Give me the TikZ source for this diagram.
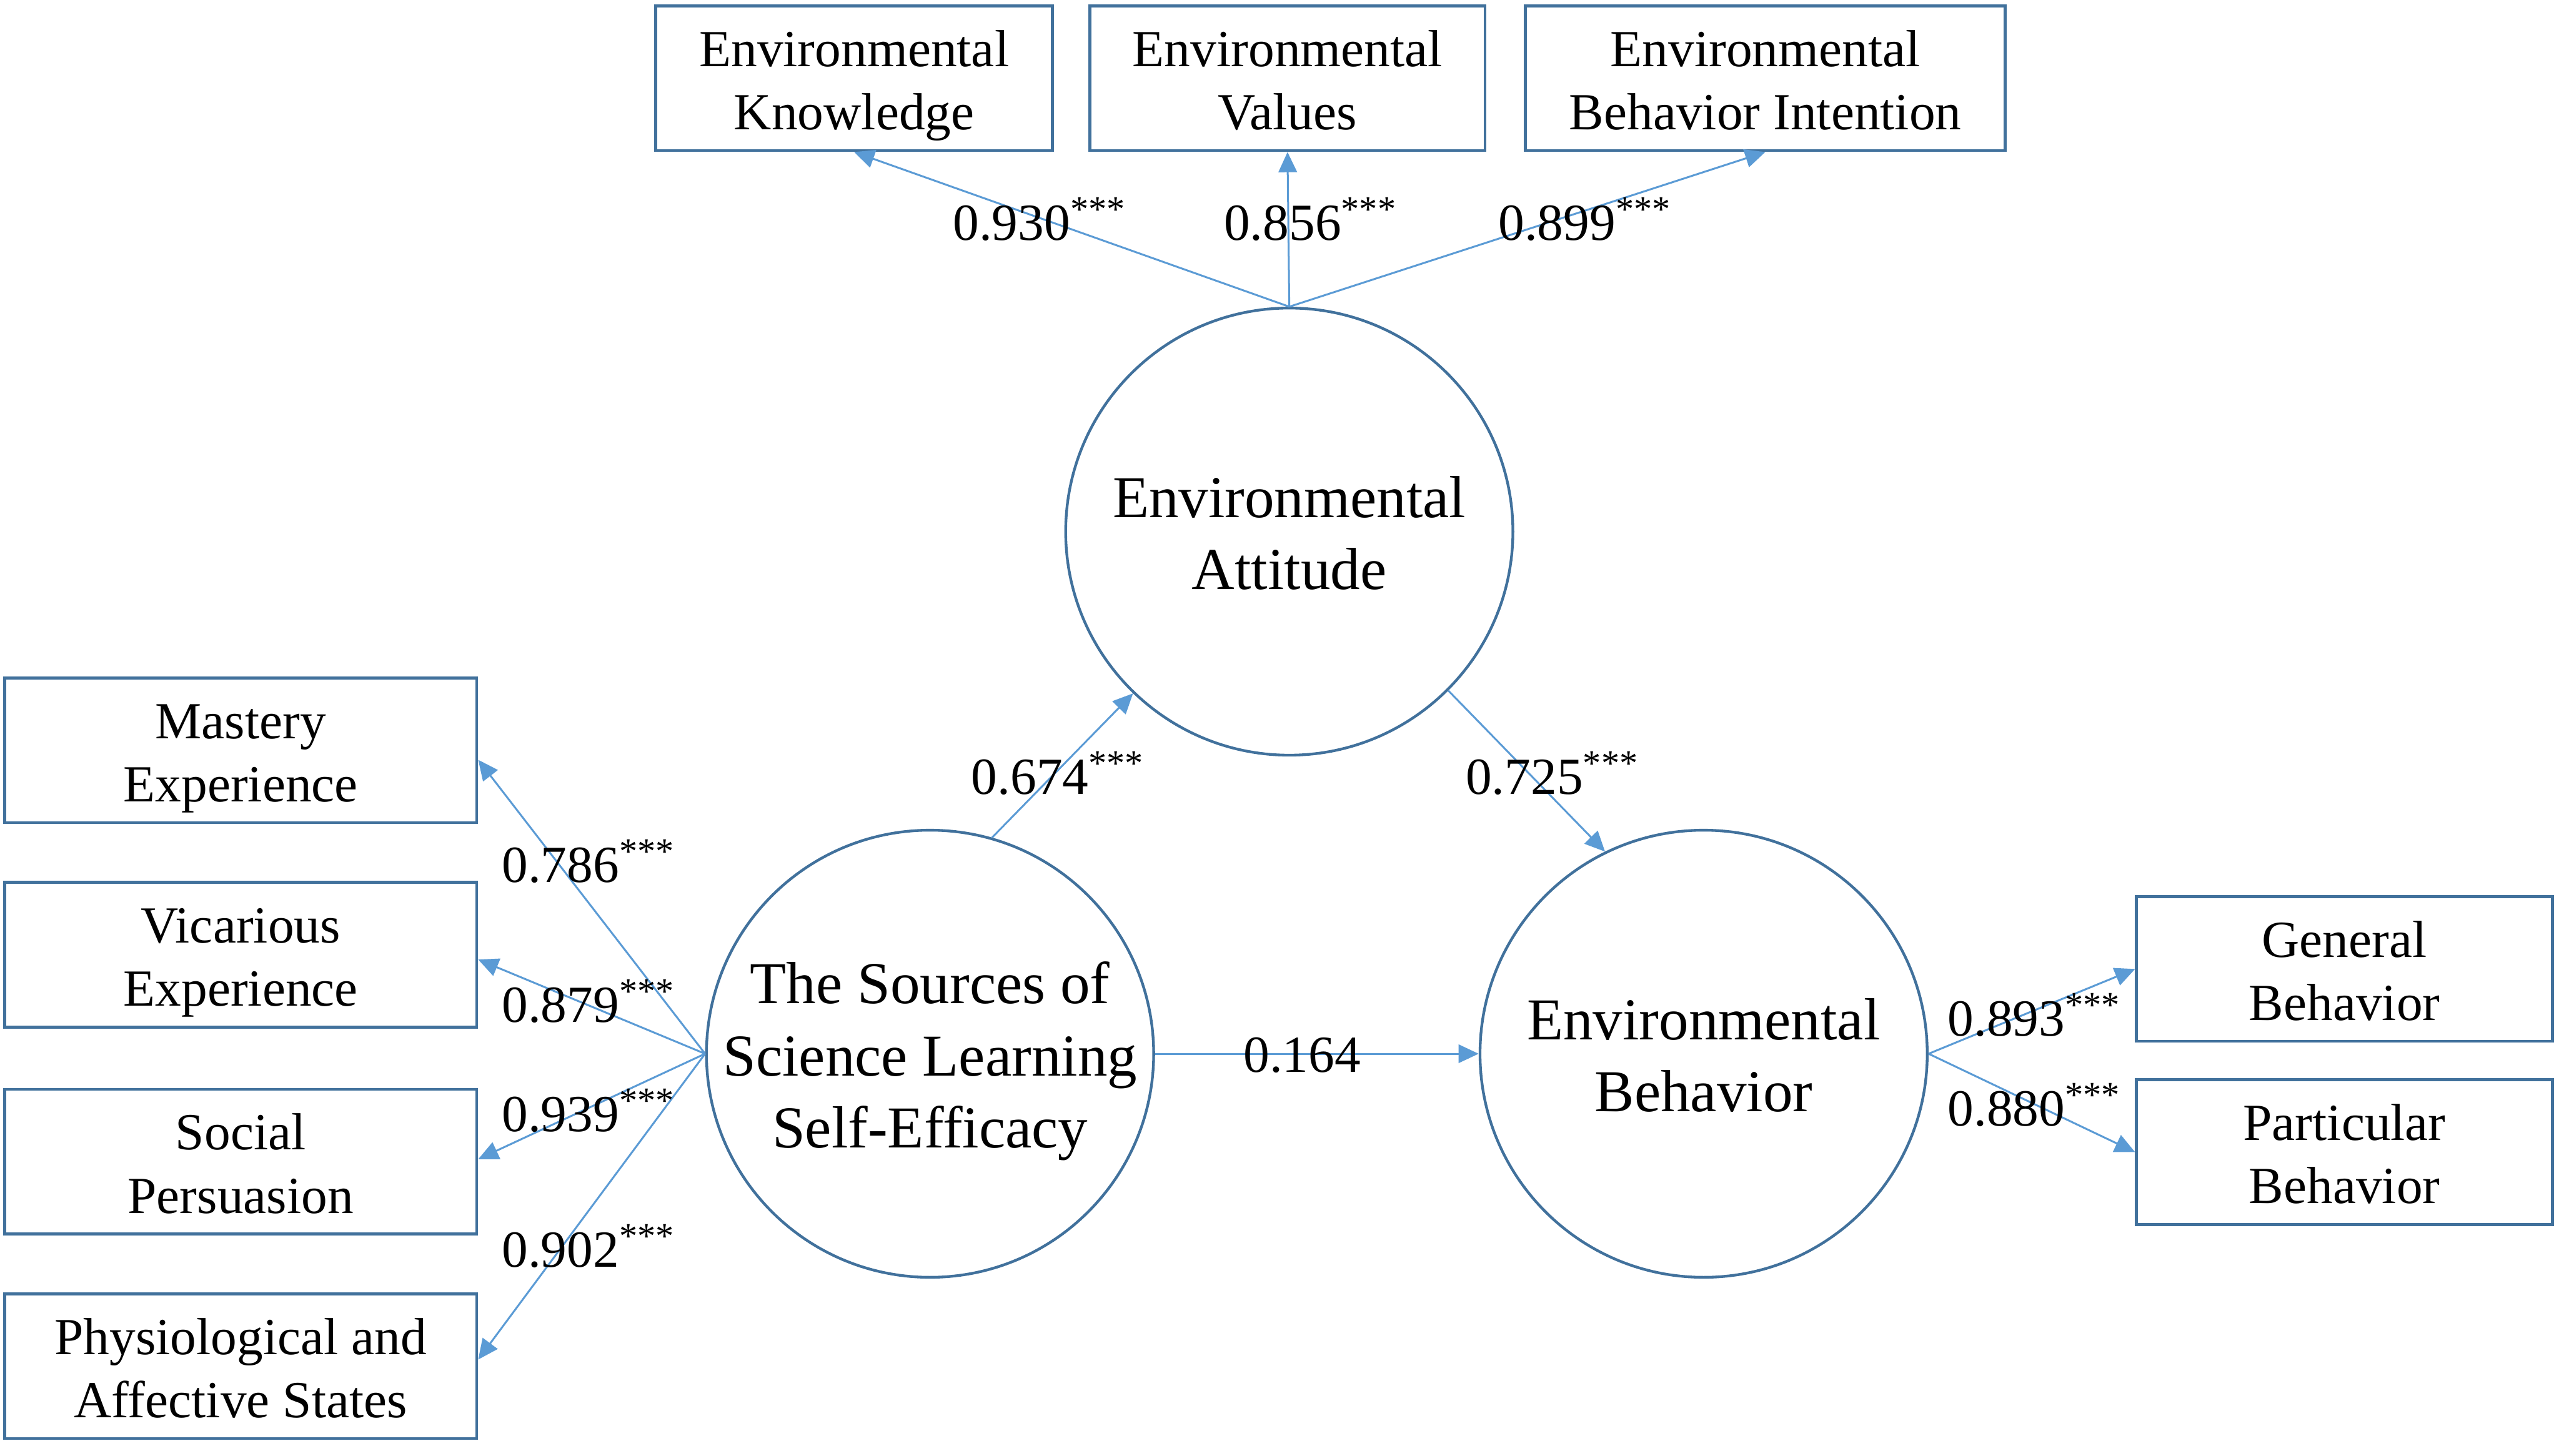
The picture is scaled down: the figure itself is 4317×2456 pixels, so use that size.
\documentclass[tikz,border=0pt]{standalone}
\usepackage{fontspec}
\setmainfont{Liberation Serif}
\usetikzlibrary{arrows.meta}
\definecolor{boxblue}{HTML}{41719C}
\definecolor{arrblue}{HTML}{5B9BD5}
\newcommand{\boxtopstrut}{\rule{0pt}{25pt}}
\newcommand{\circtopstrut}{\rule{0pt}{28pt}}
\begin{document}
\begin{tikzpicture}[x=0.01cm,y=-0.01cm,
  obs/.style={draw=boxblue, line width=1.4pt, rectangle, inner sep=0pt, align=center,
    minimum height=2.44cm, font=\fontsize{25}{30.4}\selectfont,
    execute at end node={\rule[-6pt]{0pt}{6pt}}},
  lat/.style={draw=boxblue, line width=1.3pt, circle, minimum size=7.54cm, inner sep=-0.5cm,
    align=center, font=\fontsize{28.5}{34.5}\selectfont,
    execute at end node={\rule[-7pt]{0pt}{7pt}}},
  conn/.style={draw=arrblue, line width=0.9pt, -{Triangle[length=0.34cm,width=0.31cm]}},
  coef/.style={anchor=base west, inner sep=0pt, font=\fontsize{25}{30}\selectfont}
]
\useasboundingbox (0,0) rectangle (4317,2456);
\fill[white] (0,0) rectangle (4317,2456);

% latent variables
\node[lat] (att) at (2175,897) {\circtopstrut Environmental\\Attitude};
\node[lat] (src) at (1569,1778) {\circtopstrut The Sources of\\Science Learning\\Self-Efficacy};
\node[lat] (beh) at (2874,1778) {\circtopstrut Environmental\\Behavior};

% top indicators
\node[obs, minimum width=6.69cm] (know) at (1441,132) {\boxtopstrut Environmental\\Knowledge};
\node[obs, minimum width=6.66cm] (val) at (2172,132) {\boxtopstrut Environmental\\Values};
\node[obs, minimum width=8.09cm] (bi) at (2978,132) {\boxtopstrut Environmental\\Behavior Intention};

% left indicators
\node[obs, minimum width=7.96cm] (mast) at (406,1266) {\boxtopstrut Mastery\\Experience};
\node[obs, minimum width=7.96cm] (vic) at (406,1611) {\boxtopstrut Vicarious\\Experience};
\node[obs, minimum width=7.96cm] (soc) at (406,1960) {\boxtopstrut Social\\Persuasion};
\node[obs, minimum width=7.96cm] (phys) at (406,2305) {\boxtopstrut Physiological and\\Affective States};

% right indicators
\node[obs, minimum width=7.01cm] (gen) at (3955,1635) {\boxtopstrut General\\Behavior};
\node[obs, minimum width=7.01cm] (part) at (3955,1944) {\boxtopstrut Particular\\Behavior};

% connectors
\draw[conn] (att.north) -- (know.south);
\draw[conn] (att.north) -- (val.south);
\draw[conn] (att.north) -- (bi.south);
\draw[conn] (src.west) -- ([yshift=-0.16cm]mast.east);
\draw[conn] (src.west) -- ([yshift=-0.08cm]vic.east);
\draw[conn] (src.west) -- ([yshift=0.04cm]soc.east);
\draw[conn] (src.west) -- ([yshift=0.11cm]phys.east);
\draw[conn] (src.74.6) -- (att.226);
\draw[conn] (att.315) -- (beh.116.6);
\draw[conn] (src.east) -- (beh.west);
\draw[conn] (beh.east) -- (gen.west);
\draw[conn] (beh.east) -- (part.west);

% coefficients
\node[coef] (c1) at (1607,405) {0.930\textsuperscript{***}};
\node[coef] (c2) at (2064,405) {0.856\textsuperscript{***}};
\node[coef] (c3) at (2527,405) {0.899\textsuperscript{***}};
\node[coef] (c4) at (846,1489) {0.786\textsuperscript{***}};
\node[coef] (c5) at (846,1725) {0.879\textsuperscript{***}};
\node[coef] (c6) at (846,1909) {0.939\textsuperscript{***}};
\node[coef] (c7) at (846,2138) {0.902\textsuperscript{***}};
\node[coef] (c8) at (1638,1340) {0.674\textsuperscript{***}};
\node[coef] (c9) at (2472,1340) {0.725\textsuperscript{***}};
\node[coef] (c10) at (2097,1809) {0.164};
\node[coef] (c11) at (3285,1748) {0.893\textsuperscript{***}};
\node[coef] (c12) at (3285,1900) {0.880\textsuperscript{***}};
\end{tikzpicture}
\end{document}
